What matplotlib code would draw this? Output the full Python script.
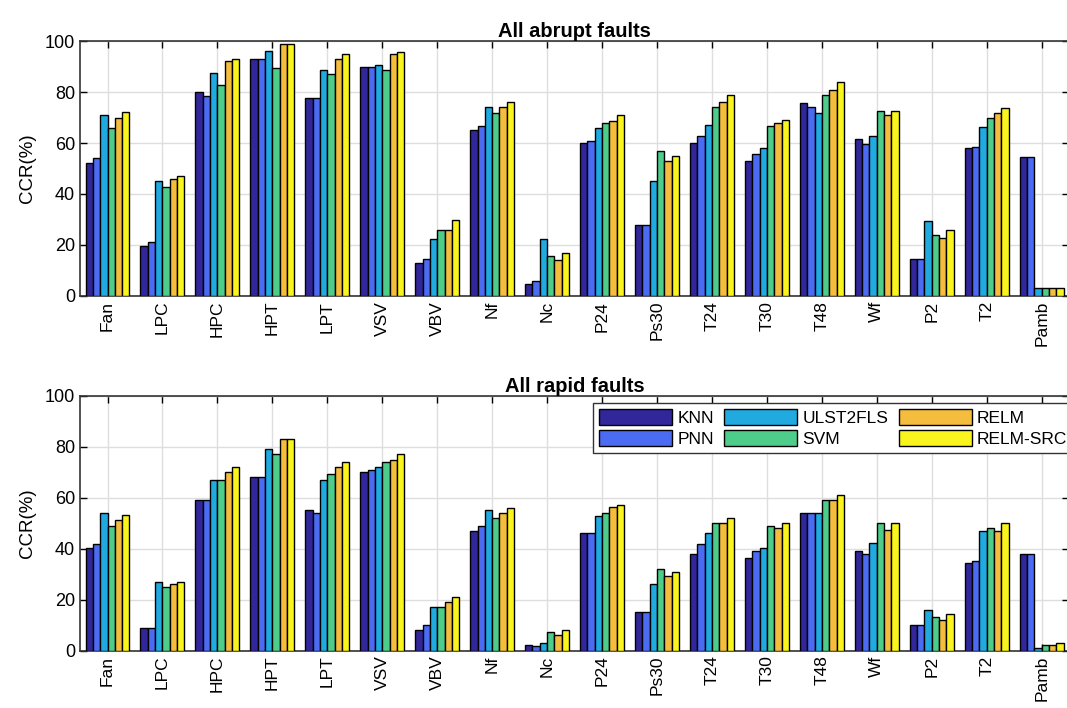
import numpy as np
import matplotlib
matplotlib.use("Agg")
import matplotlib.pyplot as plt

plt.rcParams["font.family"] = ["Liberation Sans", "DejaVu Sans"]

sensors = ["Fan", "LPC", "HPC", "HPT", "LPT", "VSV", "VBV", "Nf", "Nc",
           "P24", "Ps30", "T24", "T30", "T48", "Wf", "P2", "T2", "Pamb"]
methods = ["KNN", "PNN", "ULST2FLS", "SVM", "RELM", "RELM-SRC"]
colors = ["#31279a", "#4a6bf2", "#20aae0", "#4ecc8a", "#f4bd3e", "#f9f41e"]

# CCR (%) per sensor, one list per method
abrupt_knn  = [52, 19.7, 80, 92.8, 77.8, 89.7, 12.8, 65, 4.7, 60, 27.7, 60, 53, 75.6, 61.4, 14.6, 58, 54.6]
abrupt_pnn  = [54, 21.3, 78.6, 92.8, 77.8, 89.7, 14.6, 66.7, 5.8, 60.7, 27.7, 62.7, 55.7, 74.2, 59.7, 14.6, 58.4, 54.6]
abrupt_ulst = [71, 45.2, 87.6, 96.2, 88.8, 90.8, 22.2, 74, 22.2, 66, 45.2, 67.2, 58, 71.6, 62.7, 29.3, 66.4, 3]
abrupt_svm  = [66, 42.9, 82.7, 89.5, 86.9, 88.8, 26, 71.6, 15.7, 67.7, 56.7, 74, 66.7, 78.7, 72.7, 23.8, 70, 3]
abrupt_relm = [70, 45.8, 92, 98.8, 92.8, 94.8, 26, 74, 14, 68.8, 52.9, 76, 67.7, 80.8, 70.8, 22.9, 71.8, 3]
abrupt_src  = [72, 47, 92.8, 98.8, 94.8, 95.7, 29.8, 76, 16.7, 70.8, 54.8, 78.8, 69, 84, 72.7, 26, 73.7, 3]

rapid_knn  = [40.2, 8.9, 59, 68.2, 55.1, 70, 8.2, 47.1, 2.2, 46.2, 15.1, 38, 36.3, 54.1, 39.1, 10.1, 34.2, 38]
rapid_pnn  = [41.9, 8.9, 59, 68.2, 54.1, 70.9, 10.1, 49, 2, 46.2, 15.1, 42, 39.1, 54.1, 38, 10.1, 35.2, 38]
rapid_ulst = [54.2, 27.1, 67, 79.2, 67, 72, 17.1, 55, 3.1, 53, 26, 46.2, 40.2, 54.1, 42.1, 16.1, 47.1, 1]
rapid_svm  = [49.1, 25.1, 67, 77.1, 69.2, 74.2, 17.1, 52.2, 7.2, 54.1, 32.1, 50.1, 49.1, 59, 50.1, 13.2, 48, 2.2]
rapid_relm = [51.3, 26, 70, 83, 72.1, 74.9, 19.2, 54.1, 6.2, 56.2, 29.2, 50.1, 48, 59, 47.3, 12.2, 47.1, 2.2]
rapid_src  = [53.1, 27.1, 72.1, 83, 74.1, 77, 21.2, 56, 8.2, 57.1, 31, 52.2, 50.1, 61.1, 50.1, 14.3, 50.1, 3]

abrupt = [abrupt_knn, abrupt_pnn, abrupt_ulst, abrupt_svm, abrupt_relm, abrupt_src]
rapid = [rapid_knn, rapid_pnn, rapid_ulst, rapid_svm, rapid_relm, rapid_src]

fig = plt.figure(figsize=(10.67, 7.08), dpi=100)
ax1 = fig.add_axes([0.075, 0.582, 0.927, 0.360])
ax2 = fig.add_axes([0.075, 0.081, 0.927, 0.360])

x = np.arange(1, len(sensors) + 1)
w = 0.8 / len(methods)


def draw(ax, data, title):
    for i, vals in enumerate(data):
        ax.bar(x + (i - 2.5) * w, vals, w, color=colors[i], edgecolor="black",
               linewidth=1.0, label=methods[i], zorder=3)
    ax.set_xlim(0.5, len(sensors) + 0.5)
    ax.set_ylim(0, 100)
    ax.set_yticks(range(0, 101, 20))
    ax.set_xticks(x)
    ax.set_xticklabels(sensors, rotation=90, fontsize=12.5)
    ax.tick_params(axis="y", labelsize=13)
    ax.tick_params(direction="in", top=True, right=True, length=5, width=1)
    ax.grid(True, color="#dedede", linewidth=1.0, zorder=0)
    ax.set_axisbelow(True)
    for s in ax.spines.values():
        s.set_linewidth(1.2)
        s.set_color("#333333")
    ax.set_ylabel("CCR(%)", fontsize=13.5)
    ax.yaxis.set_label_coords(-0.045, 0.5)
    ax.set_title(title, fontsize=14.5, fontweight="bold", pad=3)


draw(ax1, abrupt, "All abrupt faults")
draw(ax2, rapid, "All rapid faults")

ax2.legend(loc="upper left", bbox_to_anchor=(0.51, 1.005), ncol=3, fontsize=12.5,
           frameon=True, fancybox=False, edgecolor="#333333", framealpha=1,
           handlelength=4.2, handleheight=1.0, handletextpad=0.3,
           columnspacing=0.6, labelspacing=0.25, borderpad=0.35)

fig.savefig("out.png", dpi=100)
